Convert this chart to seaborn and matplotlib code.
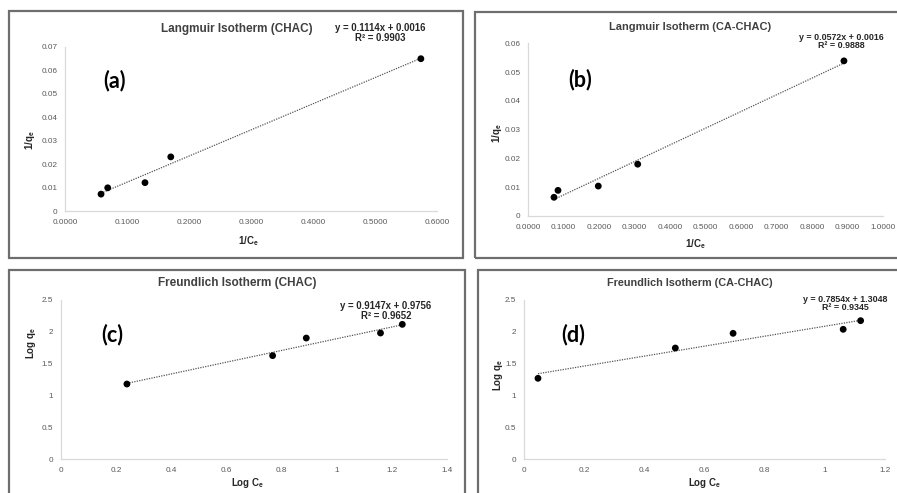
import numpy as np
import pandas as pd
import matplotlib
matplotlib.use("Agg")
import matplotlib.pyplot as plt
from matplotlib.patches import Rectangle
import seaborn as sns

# ---------------- data ----------------
# (a) Langmuir CHAC
a_x = [0.0581, 0.0689, 0.1290, 0.1706, 0.5740]
a_y = [0.0072, 0.0099, 0.0121, 0.0231, 0.0650]
# (b) Langmuir CA-CHAC
b_x = [0.0732, 0.0845, 0.1980, 0.3090, 0.8900]
b_y = [0.0065, 0.0089, 0.0104, 0.0180, 0.0539]
# (c) Freundlich CHAC
c_x = [0.240, 0.768, 0.890, 1.159, 1.238]
c_y = [1.179, 1.625, 1.902, 1.981, 2.117]
# (d) Freundlich CA-CHAC
d_x = [0.0465, 0.503, 0.695, 1.061, 1.119]
d_y = [1.269, 1.745, 1.976, 2.039, 2.175]

titles = ["Langmuir Isotherm (CHAC)", "Langmuir Isotherm (CA-CHAC)",
          "Freundlich Isotherm (CHAC)", "Freundlich Isotherm (CA-CHAC)"]
equations = ["y = 0.1114x + 0.0016\nR² = 0.9903",
             "y = 0.0572x + 0.0016\nR² = 0.9888",
             "y = 0.9147x + 0.9756\nR² = 0.9652",
             "y = 0.7854x + 1.3048\nR² = 0.9345"]
panel_labels = ["(a)", "(b)", "(c)", "(d)"]
xlabels = [r"$\mathbf{1/C_e}$", r"$\mathbf{1/C_e}$", r"$\mathbf{Log\ C_e}$", r"$\mathbf{Log\ C_e}$"]
ylabels = [r"$\mathbf{1/q_e}$", r"$\mathbf{1/q_e}$", r"$\mathbf{Log\ q_e}$", r"$\mathbf{Log\ q_e}$"]

a_xticks = [0.0, 0.1, 0.2, 0.3, 0.4, 0.5, 0.6]
a_xticklabels = ["0.0000", "0.1000", "0.2000", "0.3000", "0.4000", "0.5000", "0.6000"]
a_yticks = [0, 0.01, 0.02, 0.03, 0.04, 0.05, 0.06, 0.07]
a_yticklabels = ["0", "0.01", "0.02", "0.03", "0.04", "0.05", "0.06", "0.07"]
b_xticks = [0.0, 0.1, 0.2, 0.3, 0.4, 0.5, 0.6, 0.7, 0.8, 0.9, 1.0]
b_xticklabels = ["0.0000", "0.1000", "0.2000", "0.3000", "0.4000", "0.5000",
                 "0.6000", "0.7000", "0.8000", "0.9000", "1.0000"]
b_yticks = [0, 0.01, 0.02, 0.03, 0.04, 0.05, 0.06]
b_yticklabels = ["0", "0.01", "0.02", "0.03", "0.04", "0.05", "0.06"]
c_xticks = [0, 0.2, 0.4, 0.6, 0.8, 1.0, 1.2, 1.4]
c_xticklabels = ["0", "0.2", "0.4", "0.6", "0.8", "1", "1.2", "1.4"]
d_xticks = [0, 0.2, 0.4, 0.6, 0.8, 1.0, 1.2]
d_xticklabels = ["0", "0.2", "0.4", "0.6", "0.8", "1", "1.2"]
cd_yticks = [0, 0.5, 1.0, 1.5, 2.0, 2.5]
cd_yticklabels = ["0", "0.5", "1", "1.5", "2", "2.5"]

# ---------------- style ----------------
sns.set_style("white")
plt.rcParams["font.family"] = ["Liberation Sans", "DejaVu Sans"]
plt.rcParams["mathtext.fontset"] = "custom"
plt.rcParams["mathtext.rm"] = "Liberation Sans"
plt.rcParams["mathtext.bf"] = "Liberation Sans:bold"
plt.rcParams["mathtext.it"] = "Liberation Sans:italic"

W, H = 897, 493
fig = plt.figure(figsize=(W / 100, H / 100), dpi=100)
fig.patch.set_facecolor("white")

def fx(px):
    return px / W

def fy(py):
    return 1 - py / H

# frames (pixel coords: x0, y0, x1, y1)
frames = [(9, 11, 463, 258), (475, 12, 900, 258), (9, 270, 465, 500), (478, 270, 900, 500)]
for x0, y0, x1, y1 in frames:
    fig.patches.append(Rectangle((fx(x0), fy(y1)), fx(x1 - x0), (y1 - y0) / H,
                                 transform=fig.transFigure, fill=False,
                                 edgecolor="#6e6e6e", linewidth=1.6, zorder=0))

# axes boxes (pixel: left, top, right, bottom)
boxes = [(65, 47, 437, 211), (528, 43.3, 883, 216), (60.7, 300, 447, 459), (524, 300, 885, 459)]

panels = [
    (a_x, a_y, a_xticks, a_xticklabels, a_yticks, a_yticklabels),
    (b_x, b_y, b_xticks, b_xticklabels, b_yticks, b_yticklabels),
    (c_x, c_y, c_xticks, c_xticklabels, cd_yticks, cd_yticklabels),
    (d_x, d_y, d_xticks, d_xticklabels, cd_yticks, cd_yticklabels),
]

# text positions (pixels) and sizes
title_pos = [(237, 29), (690, 27.5), (237, 283), (690, 283)]
title_size = [8.5, 7.9, 8.5, 7.8]
eq_pos = [(380, 33), (841, 41.5), (386, 311), (845, 303.5)]
eq_size = [6.9, 6.4, 6.9, 6.4]
plab_pos = [(115, 81), (580, 80), (112, 335), (573, 335)]
xlab_pos = [(248, 241), (695, 244), (248, 483), (705, 483)]
ylab_pos = [(30, 140), (497, 133), (31, 343), (498, 375)]

for i, (xs, ys, xt, xtl, yt, ytl) in enumerate(panels):
    l, t, r, b = boxes[i]
    ax = fig.add_axes([fx(l), fy(b), (r - l) / W, (b - t) / H])
    df = pd.DataFrame({"x": xs, "y": ys})
    sns.regplot(data=df, x="x", y="y", ax=ax, ci=None, truncate=True,
                scatter_kws=dict(s=24, color="black", alpha=1, edgecolors="none",
                                 clip_on=False, zorder=3),
                line_kws=dict(color="#555555", lw=0.9, ls=(0, (1, 1)), zorder=2))
    ax.set_xlim(xt[0], xt[-1])
    ax.set_ylim(yt[0], yt[-1])
    ax.set_xticks(xt)
    ax.set_xticklabels(xtl)
    ax.set_yticks(yt)
    ax.set_yticklabels(ytl)
    ax.tick_params(axis="both", length=0, labelsize=5.9, labelcolor="#595959", pad=5.5)
    for s in ["top", "right"]:
        ax.spines[s].set_visible(False)
    for s in ["left", "bottom"]:
        ax.spines[s].set_color("#d9d9d9")
        ax.spines[s].set_linewidth(0.9)
    ax.set_xlabel("")
    ax.set_ylabel("")
    ax.set_facecolor("none")

    fig.text(fx(title_pos[i][0]), fy(title_pos[i][1]), titles[i], ha="center", va="center",
             fontsize=title_size[i], fontweight="bold", color="#404040")
    fig.text(fx(eq_pos[i][0]), fy(eq_pos[i][1]), equations[i], ha="center", va="center",
             fontsize=eq_size[i], fontweight="bold", color="#262626", linespacing=1.0)
    fig.text(fx(plab_pos[i][0]), fy(plab_pos[i][1]), panel_labels[i], ha="center", va="center",
             fontsize=15.5, fontweight="bold", color="black", family=["Lato", "DejaVu Sans"])
    fig.text(fx(xlab_pos[i][0]), fy(xlab_pos[i][1]), xlabels[i], ha="center", va="center",
             fontsize=7, color="#262626")
    fig.text(fx(ylab_pos[i][0]), fy(ylab_pos[i][1]), ylabels[i], ha="center", va="center",
             fontsize=7, color="#262626", rotation=90)

fig.savefig("out.png", dpi=100, facecolor="white")
